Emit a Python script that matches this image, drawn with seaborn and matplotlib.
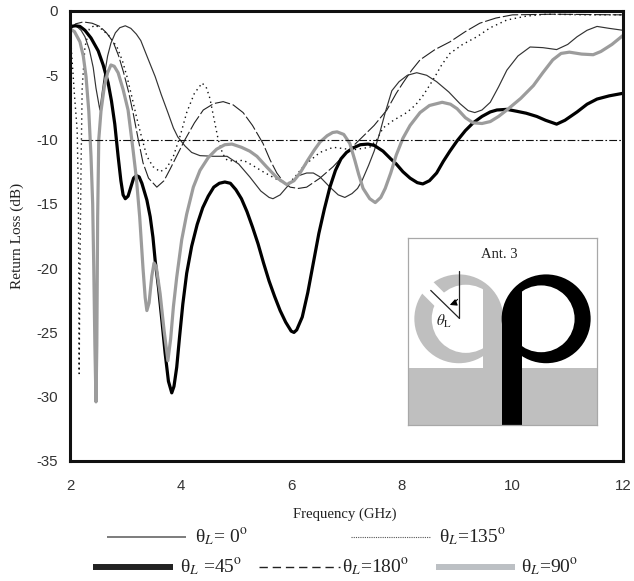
import matplotlib
matplotlib.use("Agg")
import matplotlib.pyplot as plt
from matplotlib.lines import Line2D
from matplotlib.patches import Circle, Rectangle, Polygon
import seaborn as sns

sns.set_style("white")
plt.rcParams["font.family"] = ["Liberation Serif", "DejaVu Serif"]
plt.rcParams["mathtext.fontset"] = "stix"
plt.rcParams["axes.unicode_minus"] = False

f0 = [2.0,2.12,2.2,2.27,2.35,2.42,2.47,2.54,2.58,2.63,2.68,2.74,2.82,2.9,3.0,3.1,3.2,3.28,3.4,3.54,3.65,3.77,3.87,3.95,4.08,4.2,4.35,4.6,4.84,5.05,5.25,5.45,5.6,5.67,5.8,5.98,6.14,6.28,6.4,6.52,6.7,6.85,6.97,7.1,7.2,7.28,7.4,7.5,7.6,7.7,7.82,7.95,8.1,8.27,8.45,8.63,8.85,9.05,9.2,9.32,9.45,9.6,9.75,9.9,10.1,10.32,10.55,10.8,11.0,11.17,11.35,11.53,11.75,12.0]
s0 = [-1.2,-1.2,-1.5,-2.0,-3.0,-4.4,-6.0,-7.7,-6.4,-4.8,-3.5,-2.5,-1.7,-1.3,-1.15,-1.35,-1.8,-2.3,-3.6,-5.1,-6.5,-7.9,-9.1,-9.8,-10.5,-11.0,-11.25,-11.3,-11.3,-11.9,-12.9,-14.0,-14.5,-14.6,-14.3,-13.4,-12.8,-12.6,-12.6,-12.9,-13.7,-14.3,-14.5,-14.2,-13.8,-13.2,-12.0,-10.9,-9.5,-7.9,-6.2,-5.5,-5.0,-4.8,-5.0,-5.5,-6.3,-7.2,-7.75,-7.9,-7.7,-7.1,-5.9,-4.6,-3.5,-2.8,-2.85,-3.0,-2.6,-2.0,-1.5,-1.2,-1.35,-1.5]

f45 = [2.0,2.1,2.18,2.27,2.38,2.51,2.6,2.69,2.75,2.81,2.87,2.92,2.96,3.0,3.05,3.1,3.15,3.2,3.25,3.3,3.39,3.45,3.5,3.54,3.6,3.66,3.72,3.78,3.84,3.88,3.93,3.98,4.04,4.11,4.2,4.3,4.4,4.5,4.6,4.7,4.8,4.9,5.0,5.1,5.2,5.3,5.4,5.5,5.6,5.7,5.8,5.9,6.0,6.05,6.1,6.2,6.3,6.4,6.5,6.6,6.7,6.8,6.9,7.0,7.12,7.25,7.39,7.5,7.66,7.8,7.9,8.02,8.15,8.28,8.38,8.5,8.63,8.75,8.87,9.0,9.15,9.29,9.45,9.6,9.72,9.9,10.08,10.25,10.44,10.6,10.8,10.95,11.17,11.35,11.53,11.75,12.0]
s45 = [-1.2,-1.15,-1.2,-1.5,-2.1,-3.1,-4.2,-5.6,-7.0,-8.8,-11.3,-13.2,-14.3,-14.6,-14.4,-13.7,-13.0,-12.8,-12.9,-13.4,-14.7,-16.0,-17.6,-19.4,-21.5,-24.0,-26.6,-28.8,-29.7,-29.2,-27.7,-25.4,-22.8,-20.4,-18.3,-16.6,-15.3,-14.4,-13.7,-13.4,-13.3,-13.4,-13.9,-14.6,-15.6,-16.8,-18.1,-19.6,-21.0,-22.2,-23.3,-24.2,-24.9,-25.0,-24.8,-23.8,-21.9,-19.6,-17.3,-15.4,-13.7,-12.4,-11.5,-11.0,-10.65,-10.4,-10.35,-10.45,-10.9,-11.5,-11.9,-12.5,-13.0,-13.35,-13.45,-13.2,-12.6,-11.7,-10.9,-10.1,-9.3,-8.7,-8.2,-7.85,-7.7,-7.65,-7.8,-7.95,-8.2,-8.5,-8.8,-8.5,-7.85,-7.25,-6.85,-6.6,-6.4]

f90 = [2.0,2.08,2.18,2.24,2.29,2.34,2.38,2.41,2.43,2.45,2.47,2.485,2.5,2.52,2.56,2.62,2.68,2.74,2.8,2.87,2.96,3.05,3.14,3.2,3.26,3.32,3.36,3.39,3.43,3.48,3.52,3.56,3.63,3.7,3.77,3.82,3.87,3.93,4.02,4.11,4.23,4.35,4.5,4.65,4.8,4.93,5.1,5.25,5.38,5.55,5.75,5.92,6.05,6.16,6.3,6.42,6.52,6.65,6.75,6.83,6.95,7.06,7.15,7.22,7.3,7.42,7.52,7.62,7.7,7.8,7.9,8.02,8.15,8.33,8.5,8.73,8.88,9.0,9.15,9.29,9.45,9.6,9.75,9.9,10.15,10.38,10.55,10.73,10.88,11.03,11.25,11.46,11.6,11.8,12.0]
s90 = [-1.4,-1.6,-2.4,-3.5,-5.1,-7.8,-11.3,-15.0,-20.0,-26.0,-30.4,-26.0,-16.0,-10.0,-7.8,-5.9,-4.8,-4.2,-4.3,-4.8,-6.1,-7.7,-10.8,-13.0,-16.0,-20.0,-22.3,-23.3,-22.7,-20.6,-19.6,-19.9,-22.0,-24.8,-27.2,-25.5,-23.0,-20.7,-17.8,-15.8,-13.7,-12.4,-11.4,-10.75,-10.4,-10.35,-10.6,-10.9,-11.3,-12.1,-13.0,-13.5,-13.2,-12.6,-11.6,-10.8,-10.2,-9.7,-9.45,-9.4,-9.6,-10.3,-11.6,-12.7,-13.8,-14.6,-14.9,-14.5,-13.8,-12.6,-11.2,-9.9,-8.9,-7.9,-7.35,-7.1,-7.25,-7.6,-8.3,-8.7,-8.75,-8.6,-8.2,-7.7,-6.8,-5.8,-4.8,-3.8,-3.3,-3.2,-3.35,-3.4,-3.15,-2.6,-1.9]

f135 = [2.0,2.03,2.08,2.13,2.15,2.16,2.165,2.18,2.2,2.22,2.27,2.35,2.45,2.54,2.7,2.85,2.95,3.03,3.12,3.2,3.3,3.39,3.5,3.63,3.75,3.87,4.0,4.11,4.25,4.39,4.47,4.53,4.6,4.68,4.76,4.84,5.0,5.13,5.3,5.49,5.7,5.92,6.05,6.2,6.35,6.52,6.76,7.12,7.42,7.55,7.66,7.85,8.09,8.25,8.38,8.5,8.6,8.72,8.87,9.1,9.36,9.6,9.9,10.25,10.62,11.35,12.0]
s135 = [-1.3,-3.3,-6.5,-9.3,-14.0,-21.0,-28.2,-20.0,-12.0,-6.0,-2.8,-1.4,-1.1,-1.3,-1.9,-2.8,-3.9,-5.1,-6.7,-8.2,-9.9,-11.3,-12.1,-12.5,-12.2,-11.3,-9.6,-7.9,-6.4,-5.6,-6.0,-6.8,-8.3,-10.0,-11.1,-11.6,-11.7,-11.6,-12.0,-12.5,-13.0,-13.5,-13.0,-12.2,-11.6,-11.0,-10.6,-10.8,-10.6,-10.0,-9.1,-8.5,-7.9,-7.3,-6.6,-5.8,-5.1,-4.2,-3.3,-2.6,-2.0,-1.3,-0.7,-0.4,-0.25,-0.3,-0.3]

f180 = [2.0,2.1,2.24,2.4,2.54,2.66,2.78,2.88,2.97,3.06,3.14,3.23,3.32,3.42,3.57,3.7,3.81,3.95,4.08,4.25,4.41,4.6,4.77,4.95,5.13,5.3,5.49,5.62,5.74,5.86,5.98,6.13,6.28,6.52,6.76,7.0,7.24,7.5,7.73,7.9,8.02,8.18,8.33,8.6,8.87,9.15,9.41,9.7,10.0,10.73,12.0]
s180 = [-1.5,-1.0,-0.85,-0.95,-1.2,-1.7,-2.4,-3.5,-4.8,-6.3,-7.9,-9.9,-11.8,-13.0,-13.7,-13.2,-12.3,-11.1,-10.0,-8.7,-7.7,-7.2,-7.05,-7.3,-7.9,-8.9,-10.3,-11.6,-12.6,-13.3,-13.7,-13.8,-13.7,-13.0,-12.1,-11.0,-10.0,-8.9,-7.7,-6.4,-5.6,-4.6,-3.8,-3.0,-2.4,-1.6,-0.95,-0.55,-0.3,-0.25,-0.3]

threshold = -10
x_ticks = [2, 4, 6, 8, 10, 12]
y_ticks = [0, -5, -10, -15, -20, -25, -30, -35]

W, H = 634, 581
fig = plt.figure(figsize=(W / 100, H / 100), dpi=100)
ax = fig.add_axes([70 / W, 1 - 461 / H, 553 / W, 450 / H])

styles = [
    (f180, s180, "#222222", 0.8, (0, (14, 2.5))),
    (f135, s135, "#111111", 1.0, (0, (1, 2.6))),
    (f0, s0, "#333333", 0.85, "-"),
    (f45, s45, "#000000", 2.3, "-"),
    (f90, s90, "#9c9c9c", 2.3, "-"),
]
for xs, ys, c, lw, ls in styles:
    sns.lineplot(x=xs, y=ys, color=c, lw=lw, linestyle=ls, sort=False, estimator=None, ax=ax)
ax.plot([2.2, 12], [threshold, threshold], color="#111111", lw=0.8, linestyle=(0, (7, 2, 1.5, 2)))

ax.set_xlim(2, 12)
ax.set_ylim(-35, 0)
ax.set_xticks(x_ticks)
ax.set_yticks(y_ticks)
ax.tick_params(axis="both", direction="in", length=2.5, width=0.8, labelsize=10.8, colors="#222222")
ax.tick_params(axis="x", pad=13)
ax.tick_params(axis="y", pad=8.5)
for lab in ax.get_xticklabels() + ax.get_yticklabels():
    lab.set_fontfamily("Liberation Sans")
    lab.set_color("#333333")
for s in ax.spines.values():
    s.set_linewidth(2.2)
    s.set_color("#111111")
ax.set_xlabel("")
ax.set_ylabel("")


def fx(px):
    return px / W


def fy(py):
    return 1 - py / H


fig.text(fx(345), fy(514), "Frequency (GHz)", ha="center", va="center", fontsize=10.6, color="#222222")
fig.text(fx(17), fy(236), "Return Loss (dB)", ha="center", va="center", rotation=90, fontsize=11, color="#222222")

legend_rows = [
    (107, 186, 537, "#666666", 1.2, "-", 195, "θ$_{L}$= 0$^{\\mathrm{o}}$"),
    (351, 430, 537, "#555555", 0.8, (0, (1, 1)), 439, "θ$_{L}$=135$^{\\mathrm{o}}$"),
    (93, 173, 567, "#222222", 4.3, "-", 180, "θ$_{L}$ =45$^{\\mathrm{o}}$"),
    (259, 340, 567, "#222222", 1.0, (0, (6, 3.5)), 342, "θ$_{L}$=180$^{\\mathrm{o}}$"),
    (436, 515, 567, "#bcc0c4", 4.3, "-", 521, "θ$_{L}$=90$^{\\mathrm{o}}$"),
]
for x0, x1, y, c, lw, ls, tx, label in legend_rows:
    fig.add_artist(Line2D([fx(x0), fx(x1)], [fy(y), fy(y)], color=c, lw=lw, linestyle=ls,
                          solid_capstyle="butt", transform=fig.transFigure))
    fig.text(fx(tx), fy(y), label, ha="left", va="center", fontsize=14, color="#222222")

# antenna inset, drawn in its own pixel-like coordinates
inset = fig.add_axes([408 / W, 1 - 425 / H, 189 / W, 187 / H])
inset.set_xlim(25, 590)
inset.set_ylim(585, 25)
inset.set_xticks([])
inset.set_yticks([])
for s in inset.spines.values():
    s.set_linewidth(0.9)
    s.set_color("#a8a8a8")
inset.set_facecolor("white")
GRAY = "#bfbfbf"
inset.add_patch(Circle((177, 267), 133, fc=GRAY, ec="none"))
ring_hole = Circle((198, 267), 102, fc="white", ec="none")
inset.add_patch(ring_hole)
ring_hole.set_clip_path(Rectangle((25, 25), 224, 560, transform=inset.transData))
inset.add_patch(Rectangle((249, 267), 60, 150, fc=GRAY, ec="none"))
inset.add_patch(Polygon([(147, 203), (113, 237), (43, 167), (77, 133)], fc="white", ec="none"))
inset.add_patch(Rectangle((25, 415), 565, 170, fc=GRAY, ec="none"))
inset.add_patch(Circle((438, 267), 133, fc="black", ec="none"))
loop_hole = Circle((423, 267), 100, fc="white", ec="none")
inset.add_patch(loop_hole)
loop_hole.set_clip_path(Rectangle((365, 25), 225, 560, transform=inset.transData))
inset.add_patch(Rectangle((307, 267), 58, 318, fc="black", ec="none"))
inset.plot([178, 178], [125, 265], color="#222222", lw=0.9)
inset.plot([178, 93], [265, 182], color="#222222", lw=0.9)
inset.annotate("", xy=(142, 228), xytext=(178, 202),
               arrowprops=dict(arrowstyle="-|>", color="black", lw=0.8, connectionstyle="arc3,rad=-0.2"))
inset.text(297, 75, "Ant. 3", ha="center", va="center", fontsize=10.5, color="#222222")
inset.text(132, 275, "$\\theta_{\\mathrm{L}}$", ha="center", va="center", fontsize=11, color="#222222")

fig.savefig("out.png", dpi=100, facecolor="white")
